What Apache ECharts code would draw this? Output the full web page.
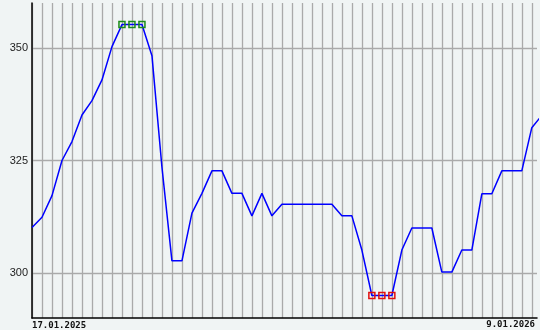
<!DOCTYPE html>
<html>
<head>
<meta charset="utf-8">
<script src="https://cdn.jsdelivr.net/npm/echarts@6/dist/echarts.min.js"></script>
<style>
html,body{margin:0;padding:0;background:#f0f4f4;}
#c{width:540px;height:330px;}
</style>
</head>
<body>
<div id="c"></div>
<script>
// weekly values (one per vertical grid line), last one partially off-chart
var values = [310.1, 312.4, 317.2, 325.0, 329.2, 335.1, 338.3, 342.9, 350.3, 355.2,
  355.2, 355.2, 348.3, 323.5, 302.7, 302.7, 313.3, 317.7, 322.7, 322.7,
  317.7, 317.7, 312.7, 317.7, 312.7, 315.3, 315.3, 315.3, 315.3, 315.3,
  315.3, 312.7, 312.7, 305.1, 295.0, 295.0, 295.0, 305.1, 310.0, 310.0,
  310.0, 300.2, 300.2, 305.1, 305.1, 317.6, 317.6, 322.7, 322.7, 322.7,
  332.3, 335.0];
var startLabel = '17.01.2025';
var endLabel = '9.01.2026';
var yTicks = [300, 325, 350];

var visibleCount = 51; // points drawn inside the plot (0..50)
var maxV = Math.max.apply(null, values.slice(0, visibleCount));
var minV = Math.min.apply(null, values.slice(0, visibleCount));

var data = values.map(function (v, i) {
  var item = { value: [i, v] };
  if (i < visibleCount && v === maxV) {
    item.symbol = 'rect'; item.symbolSize = 6;
    item.itemStyle = { color: 'rgba(0,0,0,0)', borderColor: '#1a8a1a', borderWidth: 1.5 };
  } else if (i < visibleCount && v === minV) {
    item.symbol = 'rect'; item.symbolSize = 6;
    item.itemStyle = { color: 'rgba(0,0,0,0)', borderColor: '#e01010', borderWidth: 1.5 };
  } else {
    item.symbol = 'none';
  }
  return item;
});

var chart = echarts.init(document.getElementById('c'), null, { renderer: 'canvas' });
chart.setOption({
  backgroundColor: '#f0f4f4',
  animation: false,
  grid: { left: 32, right: -2, top: 3, bottom: 12, containLabel: false },
  xAxis: {
    type: 'value', min: 0, max: 50.52, interval: 1,
    axisLine: { show: true, onZero: false, lineStyle: { color: '#000', width: 1.5 } },
    axisTick: { show: false },
    splitLine: { show: true, showMaxLine: false, lineStyle: { color: '#aaaaaa', width: 1.3 } },
    axisLabel: {
      show: true, margin: 3, alignMinLabel: 'left',
      fontFamily: 'DejaVu Sans Mono', fontSize: 9, fontWeight: 'bold', color: '#111',
      formatter: function (v) { return v === 0 ? startLabel : ''; }
    }
  },
  yAxis: {
    type: 'value', min: 290, max: 360, interval: 5,
    axisLine: { show: true, lineStyle: { color: '#000', width: 1.5 } },
    axisTick: { show: false },
    splitLine: { show: true, lineStyle: { color: ['rgba(0,0,0,0)', 'rgba(0,0,0,0)', '#aaaaaa', 'rgba(0,0,0,0)', 'rgba(0,0,0,0)'], width: 1.3 } },
    axisLabel: {
      margin: 4, fontFamily: 'Liberation Sans', fontSize: 11, color: '#222',
      formatter: function (v) { return yTicks.indexOf(v) >= 0 ? String(v) : ''; }
    }
  },
  graphic: [{
    type: 'text', right: 5, bottom: 1,
    style: { text: endLabel, font: 'bold 9px "DejaVu Sans Mono"', fill: '#111' }
  }],
  series: [{
    type: 'line', data: data, clip: true,
    lineStyle: { color: '#0000ff', width: 1.5 },
    itemStyle: { color: '#0000ff' },
    showAllSymbol: true
  }]
});
</script>
</body>
</html>
